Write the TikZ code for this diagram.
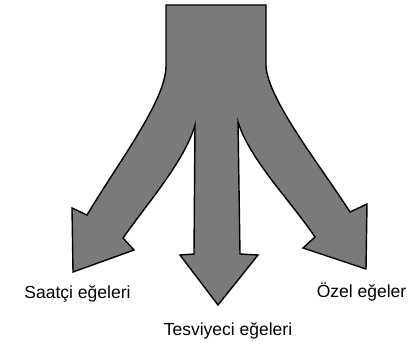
\documentclass[tikz,border=0pt]{standalone}
\usepackage{fontspec}
\setmainfont{Liberation Sans}
\begin{document}
\begin{tikzpicture}[x=1pt,y=-1pt,
  arrowbody/.style={draw=black,line width=1.4pt,fill=black!52,line join=miter},
  lbl/.style={anchor=base,inner sep=0pt,font=\fontsize{17.5}{20}\selectfont}]
\useasboundingbox (0,0) rectangle (411,345);
\draw[arrowbody]
  (166,5) -- (266,5) -- (266,66)
  .. controls (268,100) and (320,165) .. (350,212)
  -- (367,204) -- (366,269) -- (303,248) -- (315,237)
  .. controls (290,200) and (250,160) .. (238,122)
  -- (240,254) -- (258,255) -- (218,305) -- (180,255) -- (194,254)
  -- (195,125)
  .. controls (185,160) and (150,200) .. (123,238)
  -- (134,250) -- (73,272) -- (72,208) -- (87,215)
  .. controls (120,160) and (166,100) .. (166,66) -- cycle;
\node[lbl] (saat) at (77.5,298) {Saatçi eğeleri};
\node[lbl] (tesv) at (228,335) {Tesviyeci eğeleri};
\node[lbl] (ozel) at (361.5,297) {Özel eğeler};
\end{tikzpicture}
\end{document}
